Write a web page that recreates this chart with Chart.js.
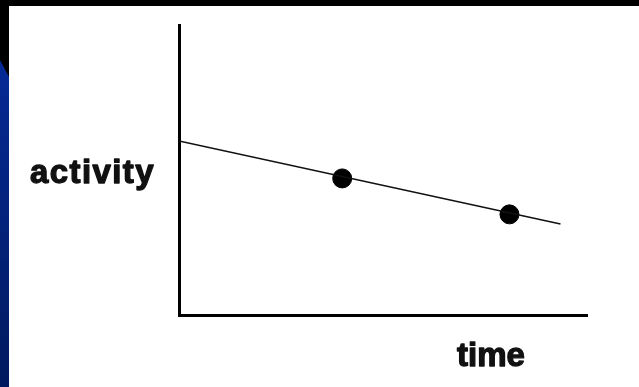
<!DOCTYPE html>
<html>
<head>
<meta charset="utf-8">
<script src="https://cdn.jsdelivr.net/npm/chart.js@4"></script>
<style>
html,body{margin:0;padding:0;background:#000;}
#wrap{width:639px;height:387px;position:relative;}
canvas{display:block;}
</style>
</head>
<body>
<div id="wrap"><canvas id="c" width="639" height="387"></canvas></div>
<script>
// Data
const trendX = [0, 9.35];
const trendY = [6.0, 3.14];
const pointX = [4.0, 8.1];
const pointY = [4.71, 3.47];
const yLabel = 'activity';
const xLabel = 'time';

const bgPlugin = {
  id: 'bg',
  beforeDraw(chart) {
    const ctx = chart.ctx;
    ctx.save();
    ctx.fillStyle = '#000';
    ctx.fillRect(0, 0, 639, 387);
    const g = ctx.createLinearGradient(0, 60, 0, 387);
    g.addColorStop(0, '#062a96');
    g.addColorStop(1, '#001a5e');
    ctx.fillStyle = g;
    ctx.beginPath();
    ctx.moveTo(0, 60);
    ctx.lineTo(9, 77);
    ctx.lineTo(9, 387);
    ctx.lineTo(0, 387);
    ctx.closePath();
    ctx.fill();
    ctx.fillStyle = '#fff';
    ctx.fillRect(9, 6, 630, 381);
    ctx.restore();
  }
};

function boldText(ctx, txt, x, y, spacing) {
  ctx.letterSpacing = spacing;
  ctx.fillText(txt, x, y);
  ctx.strokeText(txt, x, y);
}

const labelPlugin = {
  id: 'labels',
  afterDraw(chart) {
    const ctx = chart.ctx;
    ctx.save();
    ctx.fillStyle = '#111';
    ctx.strokeStyle = '#111';
    ctx.lineWidth = 1.3;
    ctx.lineJoin = 'round';
    ctx.textBaseline = 'alphabetic';
    ctx.textAlign = 'left';
    ctx.font = 'bold 33px "Liberation Sans", Arial, sans-serif';
    boldText(ctx, yLabel, 30, 183, '1.4px');
    boldText(ctx, xLabel, 457, 366, '0px');
    ctx.restore();
  }
};

const trend = trendX.map((x, i) => ({x, y: trendY[i]}));
const pts = pointX.map((x, i) => ({x, y: pointY[i]}));

new Chart(document.getElementById('c'), {
  type: 'scatter',
  data: {
    datasets: [
      {type: 'line', data: trend, borderColor: '#111', borderWidth: 1.6, pointRadius: 0, fill: false, tension: 0},
      {type: 'scatter', data: pts, backgroundColor: '#000', borderColor: '#000', pointRadius: 9.5, pointHoverRadius: 9.5}
    ]
  },
  options: {
    responsive: false,
    animation: false,
    events: [],
    layout: {padding: {left: 179, top: 25, right: 52, bottom: 72}},
    plugins: {legend: {display: false}, tooltip: {enabled: false}},
    scales: {
      x: {
        type: 'linear', min: 0, max: 10,
        grid: {display: false, drawTicks: false},
        ticks: {display: false},
        border: {display: true, color: '#000', width: 3}
      },
      y: {
        type: 'linear', min: 0, max: 10,
        grid: {display: false, drawTicks: false},
        ticks: {display: false},
        border: {display: true, color: '#000', width: 3}
      }
    }
  },
  plugins: [bgPlugin, labelPlugin]
});
</script>
</body>
</html>
